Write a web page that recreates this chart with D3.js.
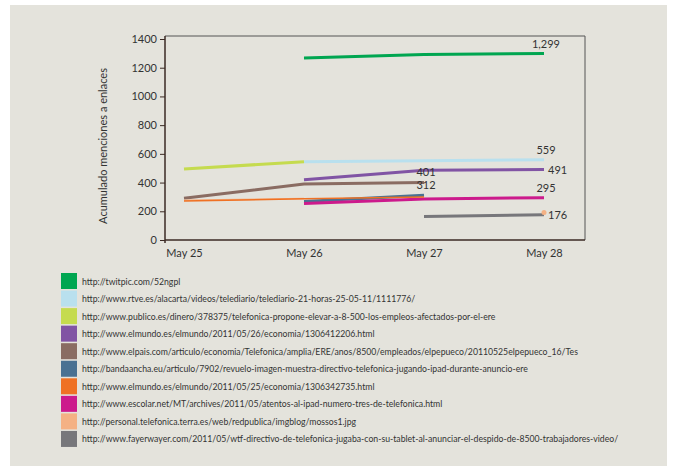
<!DOCTYPE html>
<html>
<head>
<meta charset="utf-8">
<script src="https://cdn.jsdelivr.net/npm/d3@7"></script>
<style>
  body { margin: 0; background: #fff; }
  svg { display: block; }
  text { font-family: Lato, "Open Sans", sans-serif; fill: #333; }
</style>
</head>
<body>
<svg id="chart"></svg>
<script>
const width = 676;
const height = 467;

// data
const days = ["May 25", "May 26", "May 27", "May 28"];
const yTicks = [0, 200, 400, 600, 800, 1000, 1200, 1400];

const urls = [
  "http://twitpic.com/52ngpl",
  "http://www.rtve.es/alacarta/videos/telediario/telediario-21-horas-25-05-11/1111776/",
  "http://www.publico.es/dinero/378375/telefonica-propone-elevar-a-8-500-los-empleos-afectados-por-el-ere",
  "http://www.elmundo.es/elmundo/2011/05/26/economia/1306412206.html",
  "http://www.elpais.com/articulo/economia/Telefonica/amplia/ERE/anos/8500/empleados/elpepueco/20110525elpepueco_16/Tes",
  "http://bandaancha.eu/articulo/7902/revuelo-imagen-muestra-directivo-telefonica-jugando-ipad-durante-anuncio-ere",
  "http://www.elmundo.es/elmundo/2011/05/25/economia/1306342735.html",
  "http://www.escolar.net/MT/archives/2011/05/atentos-al-ipad-numero-tres-de-telefonica.html",
  "http://personal.telefonica.terra.es/web/redpublica/imgblog/mossos1.jpg",
  "http://www.fayerwayer.com/2011/05/wtf-directivo-de-telefonica-jugaba-con-su-tablet-al-anunciar-el-despido-de-8500-trabajadores-video/"
];

const colors = [
  "#00a651", "#b9e0ee", "#c5db4f", "#8154a4", "#8a6c62",
  "#4a7192", "#ef7124", "#cc1a8c", "#f4b184", "#77777b"
];

const values = [
  [null, 1268, 1292, 1299],
  [null, 545, 552, 559],
  [495, 545, null, null],
  [null, 420, 485, 491],
  [290, 390, 401, null],
  [null, 268, 312, null],
  [272, 287, 300, null],
  [null, 255, 286, 295],
  [276, 289, null, 192],
  [null, null, 163, 176]
];

// end labels: series index, day index, text, placement
const endLabels = [
  [0, 3, "1,299", "above"],
  [1, 3, "559", "above"],
  [3, 3, "491", "right"],
  [4, 2, "401", "above"],
  [5, 2, "312", "above"],
  [7, 3, "295", "above"],
  [9, 3, "176", "right"]
];

const lineWidths = [3, 3, 3, 3, 3, 3, 1.5, 3, 1.5, 3];
const drawOrder = [0, 1, 2, 3, 4, 5, 7, 9, 8, 6];

const svg = d3.select("#chart").attr("width", width).attr("height", height);

svg.append("rect")
  .attr("x", 10).attr("y", 5)
  .attr("width", 657).attr("height", 461)
  .attr("fill", "#e4e3dc");

const plotL = 165, plotR = 585, plotT = 36, plotB = 240;

const x = d3.scalePoint().domain(days).range([184, 544]);
const y = d3.scaleLinear().domain([0, 1400]).range([plotB, 39]);

// box top / right
svg.append("path")
  .attr("d", `M${plotL},${plotT}H${plotR}V${plotB}`)
  .attr("fill", "none")
  .attr("stroke", "#555")
  .attr("stroke-width", 1);

// y axis
const yAxis = svg.append("g")
  .attr("transform", `translate(${plotL},0)`)
  .call(d3.axisLeft(y).tickValues(yTicks).tickFormat(d3.format("d"))
    .tickSize(5).tickPadding(3).tickSizeOuter(0));
yAxis.select(".domain").remove();
yAxis.append("line")
  .attr("y1", plotT).attr("y2", plotB + 3)
  .attr("stroke", "#3b2a24").attr("stroke-width", 1.5);
yAxis.selectAll(".tick line").attr("stroke", "#3b2a24");
yAxis.selectAll(".tick text")
  .style("font-size", "11px").attr("fill", "#333");

// x axis
const xAxis = svg.append("g")
  .attr("transform", `translate(0,${plotB})`)
  .call(d3.axisBottom(x).tickSize(0).tickPadding(9));
xAxis.select(".domain").remove();
xAxis.append("line")
  .attr("x1", plotL).attr("x2", plotR)
  .attr("stroke", "#3b2a24").attr("stroke-width", 1.5);
xAxis.selectAll(".tick text")
  .style("font-size", "11px").attr("fill", "#333");

svg.append("text")
  .attr("transform", "translate(107,146) rotate(-90)")
  .attr("text-anchor", "middle")
  .style("font-size", "11px")
  .text("Acumulado menciones a enlaces");

// lines
const line = d3.line()
  .defined(d => d.v !== null)
  .x(d => x(d.day))
  .y(d => y(d.v));

const seriesG = svg.append("g");
drawOrder.forEach(i => {
  const pts = values[i].map((v, j) => ({ day: days[j], v: v }));
  seriesG.append("path")
    .datum(pts)
    .attr("fill", "none")
    .attr("stroke", colors[i])
    .attr("stroke-width", lineWidths[i])
    .attr("d", line);
  // isolated points
  pts.forEach((p, j) => {
    if (p.v === null) return;
    const prev = j > 0 ? pts[j - 1].v : null;
    const next = j < pts.length - 1 ? pts[j + 1].v : null;
    if (prev === null && next === null) {
      seriesG.append("circle")
        .attr("cx", x(p.day)).attr("cy", y(p.v))
        .attr("r", 2.5).attr("fill", colors[i]);
    }
  });
});

// value labels
svg.append("g")
  .selectAll("text")
  .data(endLabels)
  .enter()
  .append("text")
  .attr("x", d => d[3] === "right" ? x(days[d[1]]) + 4 : x(days[d[1]]) + 2)
  .attr("y", d => d[3] === "right" ? y(values[d[0]][d[1]]) + 4 : y(values[d[0]][d[1]]) - 6)
  .attr("text-anchor", d => d[3] === "right" ? "start" : "middle")
  .style("font-size", "11px")
  .text(d => d[2]);

// legend
const legend = svg.append("g")
  .selectAll("g")
  .data(urls)
  .enter()
  .append("g")
  .attr("transform", (d, i) => `translate(61,${273 + i * 17.55})`);

legend.append("rect")
  .attr("width", 16).attr("height", 16)
  .attr("fill", (d, i) => colors[i]);

legend.append("text")
  .attr("x", 21).attr("y", 11.5)
  .style("font-size", "8.7px")
  .text(d => d);
</script>
</body>
</html>
